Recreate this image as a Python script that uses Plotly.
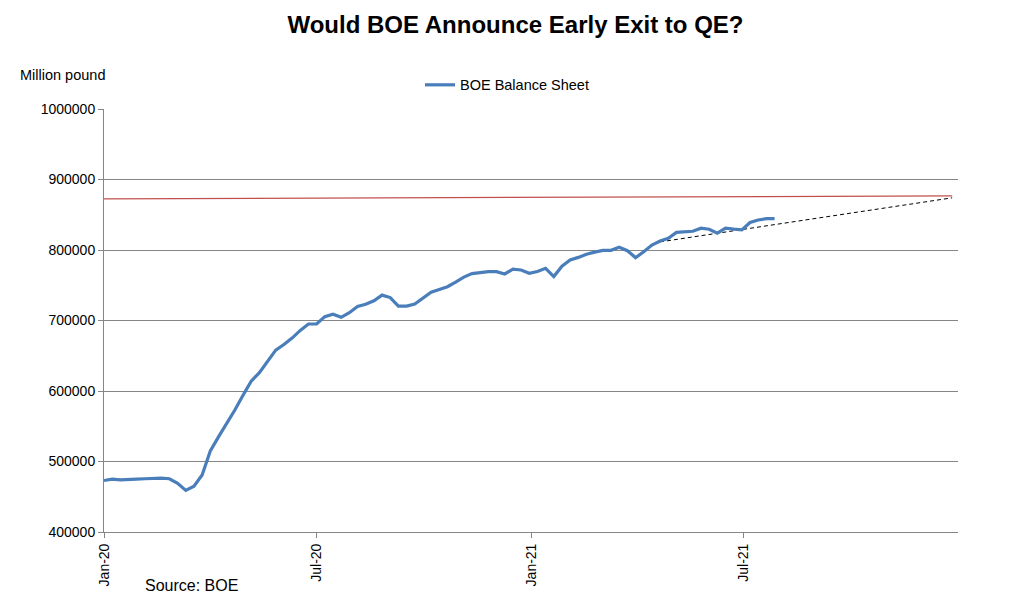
import datetime as dt
import plotly.graph_objects as go

start = dt.date(2020, 1, 1)
balance = [473000, 475000, 474000, 474000, 475000, 475500, 476500, 476500, 475500, 469000,
           459000, 465000, 481000, 515000, 535000, 553000, 573000, 594000, 614000, 626000,
           643000, 658000, 666000, 675000, 686000, 695000, 695000, 705500, 709000, 704500,
           711000, 720000, 723000, 728000, 736000, 732500, 720500, 720500, 723500, 732000,
           740000, 744000, 748000, 754500, 761500, 766500, 768000, 769300, 769300, 766000,
           772800, 771600, 767000, 769500, 774000, 762300, 777000, 786000, 789500, 794000,
           797000, 799500, 799500, 804000, 799000, 789200, 797500, 807000, 812800, 816700,
           825000, 826000, 826600, 831000, 829500, 823800, 830900, 829500, 828500, 839000,
           842600, 844500, 844500]
dates = [start + dt.timedelta(days=7 * i) for i in range(len(balance))]

target_dates = ["2019-12-30", "2021-12-27"]
target_values = [872500, 876800]

trend_dates = ["2021-04-21", "2021-12-27"]
trend_values = [811500, 874000]

fig = go.Figure()
fig.add_trace(go.Scatter(x=target_dates, y=target_values, mode="lines",
                         line=dict(color="#C0504D", width=1.2), showlegend=False, hoverinfo="skip"))
fig.add_trace(go.Scatter(x=trend_dates, y=trend_values, mode="lines",
                         line=dict(color="#000000", width=1, dash="4px,3px"), showlegend=False, hoverinfo="skip"))
fig.add_trace(go.Scatter(x=dates, y=balance, mode="lines", name="BOE Balance Sheet",
                         line=dict(color="#4A7EBB", width=3.2)))

fig.update_layout(
    width=1029, height=616,
    paper_bgcolor="white", plot_bgcolor="white",
    font=dict(family="Liberation Sans, Arial, sans-serif", size=14, color="black"),
    margin=dict(l=96, r=79, t=101, b=92, autoexpand=False),
    title=dict(text="<b>Would BOE Announce Early Exit to QE?</b>", x=0.4932, xanchor="center",
               y=1 - 17 / 616, yanchor="middle", font=dict(size=24, color="black")),
    legend=dict(orientation="h", x=0.37, xanchor="left", y=1.057, yanchor="middle",
                font=dict(size=14.5), bgcolor="rgba(0,0,0,0)"),
    xaxis=dict(type="date", range=["2020-01-01", "2022-01-01"], tickmode="array",
               tickvals=["2020-01-01", "2020-07-01", "2021-01-01", "2021-07-01"],
               ticktext=["Jan-20", "Jul-20", "Jan-21", "Jul-21"],
               tickangle=-90, showgrid=False, showline=True, linecolor="#868686", linewidth=1,
               ticks="outside", ticklen=5, tickcolor="#868686", zeroline=False,
               tickfont=dict(size=14), automargin=False),
    yaxis=dict(range=[400000, 1000000], dtick=100000, tickformat="d",
               showgrid=True, gridcolor="#868686", gridwidth=1,
               showline=True, linecolor="#868686", linewidth=1,
               ticks="outside", ticklen=5, tickcolor="#868686", zeroline=False,
               tickfont=dict(size=14), automargin=False),
    annotations=[
        dict(text="Million pound", xref="paper", yref="paper", x=(17 - 103) / 854, y=(532 - 75) / 423,
             xanchor="left", yanchor="middle", showarrow=False, font=dict(size=14.5)),
        dict(text="Source: BOE", xref="paper", yref="paper", x=(142 - 103) / 854, y=-(585 - 532) / 423,
             xanchor="left", yanchor="middle", showarrow=False, font=dict(size=16)),
    ],
)

fig.write_html("out.html")
